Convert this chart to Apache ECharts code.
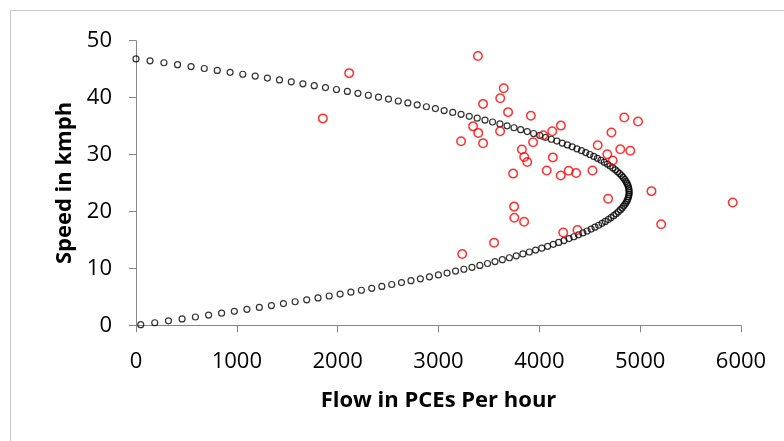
<!DOCTYPE html>
<html>
<head>
<meta charset="utf-8">
<script src="https://cdn.jsdelivr.net/npm/echarts@6/dist/echarts.min.js"></script>
<style>
html,body{margin:0;padding:0;background:#fff;}
#chart{width:784px;height:441px;}
</style>
</head>
<body>
<div id="chart"></div>
<script>
// Model curve (black open circles)
var modelFlow = [0,139,277,412,546,677,806,933,1059,1182,
1303,1423,1540,1655,1768,1879,1988,2096,2201,2304,
2405,2504,2601,2696,2789,2880,2969,3056,3141,3224,
3305,3384,3461,3536,3609,3680,3749,3815,3880,3943,
4004,4063,4119,4174,4227,4278,4326,4373,4418,4460,
4501,4540,4576,4611,4643,4674,4702,4729,4754,4776,
4797,4815,4831,4846,4858,4869,4877,4884,4888,4890,
4891,4889,4885,4879,4872,4862,4850,4836,4821,4803,
4783,4761,4737,4711,4684,4654,4622,4588,4552,4514,
4474,4432,4388,4342,4294,4244,4192,4138,4082,4024,
3963,3901,3837,3771,3703,3633,3560,3486,3410,3332,
3252,3169,3085,2999,2910,2820,2727,2633,2536,2438,
2338,2235,2131,2024,1916,1805,1693,1578,1462,1343,
1223,1100,975,849,720,589,457,322,186,47];
var modelSpeed = [46.80,46.46,46.13,45.79,45.46,45.12,44.78,44.45,44.11,43.78,
43.44,43.11,42.77,42.43,42.10,41.76,41.43,41.09,40.75,40.42,
40.08,39.75,39.41,39.07,38.74,38.40,38.07,37.73,37.40,37.06,
36.72,36.39,36.05,35.72,35.38,35.04,34.71,34.37,34.04,33.70,
33.36,33.03,32.69,32.36,32.02,31.69,31.35,31.01,30.68,30.34,
30.01,29.67,29.33,29.00,28.66,28.33,27.99,27.65,27.32,26.98,
26.65,26.31,25.98,25.64,25.30,24.97,24.63,24.30,23.96,23.62,
23.29,22.95,22.62,22.28,21.94,21.61,21.27,20.94,20.60,20.27,
19.93,19.59,19.26,18.92,18.59,18.25,17.91,17.58,17.24,16.91,
16.57,16.23,15.90,15.56,15.23,14.89,14.56,14.22,13.88,13.55,
13.21,12.88,12.54,12.20,11.87,11.53,11.20,10.86,10.52,10.19,
9.85,9.52,9.18,8.85,8.51,8.17,7.84,7.50,7.17,6.83,
6.49,6.16,5.82,5.49,5.15,4.81,4.48,4.14,3.81,3.47,
3.14,2.80,2.46,2.13,1.79,1.46,1.12,0.78,0.45,0.11];

// Observed data (red open circles)
var obsFlow = [3391,2114,3647,3612,3442,3690,3916,1853,4842,4979,
3343,4214,3394,3611,4128,4039,4715,3224,3442,3938,
4579,3827,4803,4902,3850,3880,4134,4674,4728,3740,
4073,4212,4291,4365,4527,5112,4682,5918,3750,3752,
3849,5208,4237,4378,3551,3235];
var obsSpeed = [47.3,44.3,41.65,39.9,38.9,37.45,36.8,36.35,36.5,35.8,
34.95,35.08,33.8,34.08,34.08,33.4,33.86,32.33,32.0,32.15,
31.63,30.9,30.93,30.68,29.58,28.7,29.5,30.06,28.95,26.65,
27.2,26.32,27.15,26.76,27.2,23.57,22.22,21.57,20.85,18.88,
18.18,17.75,16.3,16.75,14.52,12.52];

var xTicks = [0,1000,2000,3000,4000,5000,6000];
var yTicks = [0,10,20,30,40,50];
var xTitle = 'Flow in PCEs Per hour';
var yTitle = 'Speed in kmph';

function pairs(a,b){var r=[];for(var i=0;i<a.length;i++){r.push([a[i],b[i]]);}return r;}

var chart = echarts.init(document.getElementById('chart'), null, {renderer:'canvas'});
var axisCol = '#868686';
var FONT = "'Open Sans', 'Liberation Sans', sans-serif";
chart.setOption({
  animation:false,
  backgroundColor:'#ffffff',
  graphic:[{
    type:'rect', shape:{x:10.5,y:10.5,width:900,height:600},
    style:{fill:'none',stroke:'#c8c8c8',lineWidth:1}, silent:true, z:-10
  }],
  grid:{left:136,right:43,top:40.7,bottom:115.7,containLabel:false},
  xAxis:{
    type:'value', min:xTicks[0], max:xTicks[xTicks.length-1], interval:1000,
    name:xTitle, nameLocation:'middle', nameGap:64,
    nameTextStyle:{fontFamily:FONT,fontSize:22,fontWeight:'bold',color:'#000'},
    axisLine:{show:true,onZero:false,lineStyle:{color:axisCol,width:1}},
    axisTick:{show:true,length:7,inside:false,lineStyle:{color:axisCol}},
    axisLabel:{fontFamily:FONT,fontSize:22,color:'#000',margin:25,
      formatter:function(v){return String(v);}},
    splitLine:{show:false}
  },
  yAxis:{
    type:'value', min:yTicks[0], max:yTicks[yTicks.length-1], interval:10,
    name:yTitle, nameLocation:'middle', nameGap:60, nameRotate:90,
    nameTextStyle:{fontFamily:FONT,fontSize:22,fontWeight:'bold',color:'#000'},
    axisLine:{show:true,onZero:false,lineStyle:{color:axisCol,width:1}},
    axisTick:{show:true,length:7,inside:false,lineStyle:{color:axisCol}},
    axisLabel:{fontFamily:FONT,fontSize:22,color:'#000',margin:24,
      formatter:function(v){return String(v);}},
    splitLine:{show:false}
  },
  series:[{
    type:'scatter', data:pairs(modelFlow,modelSpeed),
    symbol:'circle', symbolSize:6,
    itemStyle:{color:'rgba(255,255,255,0)',borderColor:'#000',borderWidth:1.2},
    z:2
  },{
    type:'scatter', data:pairs(obsFlow,obsSpeed),
    symbol:'circle', symbolSize:8.5,
    itemStyle:{color:'rgba(255,255,255,0)',borderColor:'#ff0000',borderWidth:1.5},
    z:3
  }]
});
</script>
</body>
</html>
